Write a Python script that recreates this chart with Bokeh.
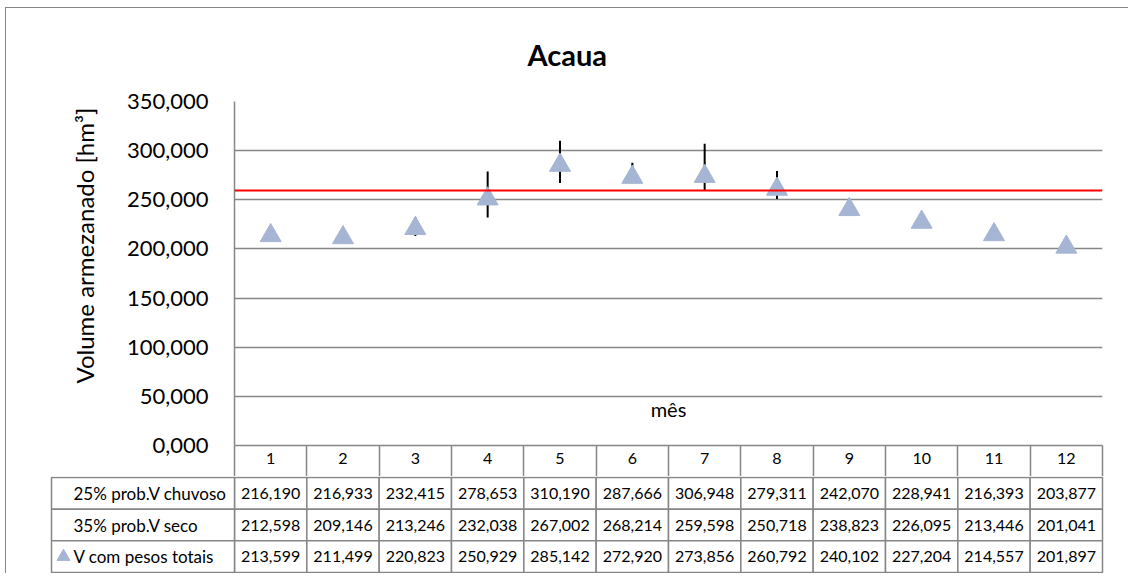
from bokeh.plotting import figure
from bokeh.layouts import column
from bokeh.models import (Range1d, FixedTicker, CustomJSTickFormatter, Span, Label,
                          ColumnDataSource, LinearAxis, Plot, Title)
from bokeh.core.properties import value
from bokeh.embed import file_html
from bokeh.resources import INLINE

# ---------------- data ----------------
titulo = "Acaua"
meses = [1, 2, 3, 4, 5, 6, 7, 8, 9, 10, 11, 12]
v_chuvoso = [216.190, 216.933, 232.415, 278.653, 310.190, 287.666,
             306.948, 279.311, 242.070, 228.941, 216.393, 203.877]
v_seco = [212.598, 209.146, 213.246, 232.038, 267.002, 268.214,
          259.598, 250.718, 238.823, 226.095, 213.446, 201.041]
v_total = [213.599, 211.499, 220.823, 250.929, 285.142, 272.920,
           273.856, 260.792, 240.102, 227.204, 214.557, 201.897]
nomes_series = ["25% prob.V chuvoso", "35% prob.V seco", "V com pesos totais"]
y_ticks = [0, 50, 100, 150, 200, 250, 300, 350]
linha_ref = 259.4
y_label = "Volume  armezanado [hm³]"
x_label = "mês"

FONT = "Lato"
GRID = "#868686"
TRI = "#A6B5D4"

def fmt(v):
    return f"{v:.3f}".replace(".", ",")

# ---------------- layout constants (pixels) ----------------
W = 1122
FR_LEFT = 228      # frame left inside canvas
FR_RIGHT = 1096    # frame right inside canvas
FR_TOP = 93
HDR = 31           # header row height (x-axis)
TOP_H = FR_TOP + 344 + HDR
BOT_H = 97
ppu = (FR_RIGHT - FR_LEFT) / 12.0

extra = {}
if "frame_align" in Plot.properties():
    extra["frame_align"] = False

# ---------------- main chart ----------------
p = figure(width=W, height=TOP_H, x_range=Range1d(0.5, 12.5), y_range=Range1d(0, 350),
           output_backend="svg", toolbar_location=None, x_axis_location=None,
           min_border_left=FR_LEFT, min_border_right=W - FR_RIGHT,
           min_border_top=FR_TOP, min_border_bottom=HDR, outline_line_color=None,
           background_fill_color="white", border_fill_color="white", **extra)

p.title.text = titulo
p.title.text_font = FONT
p.title.text_font_size = "29px"
p.title.text_font_style = "bold"
p.title.text_color = "black"
p.title.align = "left"
p.title.offset = 293
p.title.vertical_align = "top"
p.title.standoff = 56

ya = p.yaxis[0]
ya.ticker = FixedTicker(ticks=y_ticks)
ya.formatter = CustomJSTickFormatter(code="return tick.toFixed(3).replace('.', ',');")
ya.major_label_text_font = FONT
ya.major_label_text_font_size = "22px"
ya.major_label_text_color = "black"
ya.major_tick_out = 0
ya.major_tick_in = 0
ya.minor_tick_out = 0
ya.minor_tick_in = 0
ya.axis_line_color = GRID
ya.axis_line_width = 1.5
ya.major_label_standoff = 26

# y-axis title (placed on the left side, shifted up as in the reference)
p.add_layout(Title(text=y_label, align="left", offset=62, standoff=50,
                   text_font=FONT, text_font_size="24px", text_font_style="normal",
                   text_color="black"), "left")

xa = LinearAxis(ticker=FixedTicker(ticks=meses, minor_ticks=[m - 0.5 for m in meses] + [12.5]))
xa.major_tick_out = 0
xa.major_tick_in = 0
xa.minor_tick_out = HDR
xa.minor_tick_in = 0
xa.minor_tick_line_color = GRID
xa.minor_tick_line_width = 1.5
xa.axis_line_color = GRID
xa.axis_line_width = 1.5
xa.major_label_text_font = FONT
xa.major_label_text_font_size = "16px"
xa.major_label_text_color = "black"
xa.major_label_standoff = -24
p.add_layout(xa, "below")

p.xgrid.visible = False
p.ygrid.ticker = FixedTicker(ticks=y_ticks)
p.ygrid.grid_line_color = GRID
p.ygrid.grid_line_width = 1.5

p.add_layout(Span(location=linha_ref, dimension="width", line_color="#FF0000", line_width=2))

src = ColumnDataSource(dict(mes=meses, chuvoso=v_chuvoso, seco=v_seco, total=v_total))
p.segment(x0="mes", y0="seco", x1="mes", y1="chuvoso", source=src,
          line_color="black", line_width=2)
p.scatter(x="mes", y="total", source=src, marker="triangle", size=21,
          fill_color=TRI, line_color=TRI)

p.add_layout(Label(x=6.5, y=37.6, text=x_label, text_align="center", text_baseline="middle",
                   text_font=FONT, text_font_size="20px", text_color="black"))

# ---------------- data table ----------------
x0 = 0.5 - FR_LEFT / ppu
x1 = 12.5 + (W - FR_RIGHT) / ppu
lab_left = x0 + 45 / ppu
lab_w = 0.5 - lab_left

t = figure(width=W, height=BOT_H, x_range=Range1d(x0, x1), y_range=Range1d(3.03, -0.03),
           output_backend="svg", toolbar_location=None, x_axis_location=None,
           y_axis_location=None, min_border=0, min_border_left=0, min_border_right=0,
           min_border_top=0, min_border_bottom=0, outline_line_color=None,
           background_fill_color="white", border_fill_color="white", **extra)
t.xgrid.visible = False
t.ygrid.visible = False

linhas = [v_chuvoso, v_seco, v_total]
cx, cy, ctxt = [], [], []
for r, serie in enumerate(linhas):
    for m, v in zip(meses, serie):
        cx.append(m)
        cy.append(r + 0.5)
        ctxt.append(fmt(v))
cells = ColumnDataSource(dict(x=cx, y=cy, txt=ctxt))
t.rect(x="x", y="y", width=1, height=1, source=cells, fill_color="white",
       line_color=GRID, line_width=1.5)
t.text(x="x", y="y", text="txt", source=cells, text_align="center", text_baseline="middle",
       text_font=value(FONT), text_font_size="16px", text_color="black")

rows = ColumnDataSource(dict(x=[lab_left + lab_w / 2] * 3, y=[0.5, 1.5, 2.5],
                             tx=[lab_left + 22 / ppu] * 3, nome=nomes_series))
t.rect(x="x", y="y", width=lab_w, height=1, source=rows, fill_color="white",
       line_color=GRID, line_width=1.5)
t.text(x="tx", y="y", text="nome", source=rows, text_align="left", text_baseline="middle",
       text_font=value(FONT), text_font_size="17px", text_color="black")
t.scatter(x=[lab_left + 12 / ppu], y=[2.5], marker="triangle", size=13,
          fill_color=TRI, line_color=TRI)

layout = column(p, t, styles={"margin-left": "5px", "margin-top": "7px",
                              "border-left": "1px solid #868686",
                              "border-top": "1px solid #868686"})

open("out.html", "w").write(file_html(layout, INLINE))
